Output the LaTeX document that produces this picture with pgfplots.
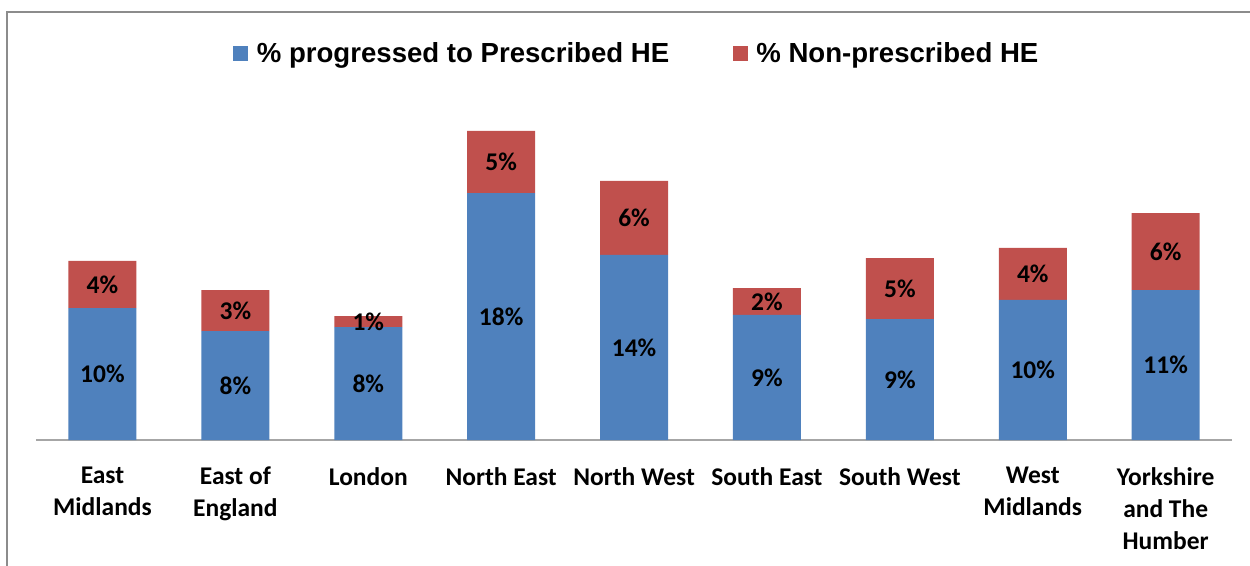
\documentclass[border=0pt]{standalone}
\usepackage{fontspec}
\setmainfont{Carlito}
\newfontfamily\legendfont{Liberation Sans}
\usepackage{pgfplots}
\pgfplotsset{compat=1.18}
\definecolor{heblue}{HTML}{4F81BD}
\definecolor{hered}{HTML}{C0504D}
\begin{document}
\begin{tikzpicture}
\begin{axis}[
  x=2.658cm, y=0.268cm,
  xmin=-0.5, xmax=8.5, ymin=0, ymax=25,
  ybar stacked, bar width=1.36cm,
  hide y axis,
  axis x line*=bottom,
  axis line style={draw=gray!70, line width=0.6pt},
  xtick={0,...,8},
  xticklabels={East\\Midlands, East of\\England, London, North East, North West,
               South East, South West, West\\Midlands, Yorkshire\\and The\\Humber},
  xtick style={draw=none},
  xticklabel style={align=center, font=\fontsize{14.5}{18.2}\selectfont\bfseries,
                    anchor=north, yshift=-0.42cm},
  clip=false,
  legend columns=2,
  legend style={at={(0.503,1.153)}, anchor=center, draw=none, fill=none,
                font=\legendfont\fontsize{15.7}{18}\selectfont\bfseries,
                /tikz/every even column/.append style={column sep=1.2cm}},
  legend image code/.code={\fill[#1,draw=none] (0cm,-0.15cm) rectangle (0.3cm,0.15cm);
                           \path (0.4cm,0cm);},
  /pgf/number format/assume math mode=true,
  visualization depends on={rawy \as \rawy},
  nodes near coords={\pgfmathprintnumber[fixed,precision=0]{\rawy}\%},
  every node near coord/.append style={anchor=center,
                    font=\fontsize{14.5}{15}\selectfont\bfseries, text=black},
]
% pixel heights, 13.4 px per percent
\addplot[fill=heblue, draw=none] coordinates
  {(0,9.85) (1,8.13) (2,8.43) (3,18.43) (4,13.81) (5,9.33) (6,9.03) (7,10.45) (8,11.19)};
\addlegendentry{\% progressed to Prescribed HE}
\addplot[fill=hered, draw=none] coordinates
  {(0,3.51) (1,3.06) (2,0.82) (3,4.63) (4,5.52) (5,2.01) (6,4.55) (7,3.88) (8,5.75)};
\addlegendentry{\% Non-prescribed HE}
\end{axis}
\draw[gray!90, line width=0.8pt] (-0.58cm,-3cm) -- (-0.58cm,8.56cm) -- (25cm,8.56cm);
\pgfresetboundingbox
\useasboundingbox (-0.72cm,-2.5cm) rectangle (24.28cm,8.8cm);
\end{tikzpicture}
\end{document}
